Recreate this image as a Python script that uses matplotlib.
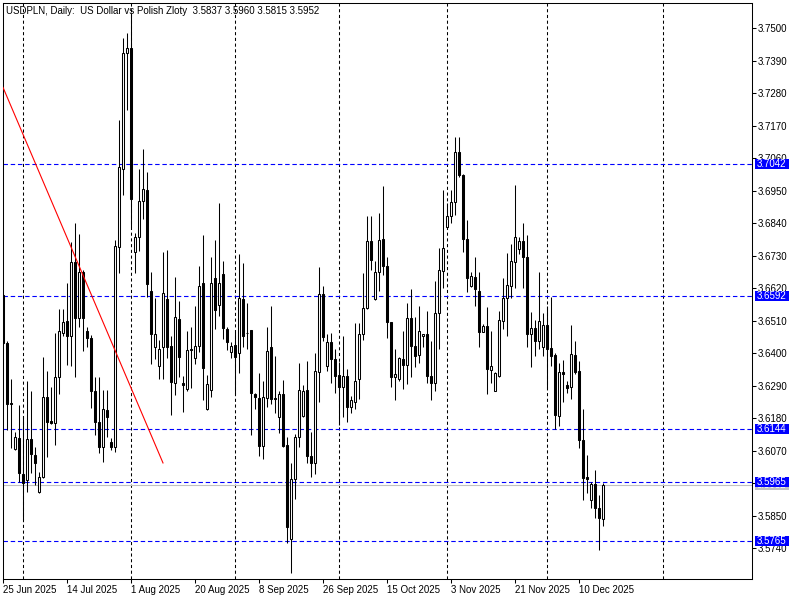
import matplotlib
matplotlib.use("Agg")
import matplotlib.pyplot as plt
from matplotlib.patches import Rectangle

plt.rcParams['font.family'] = ['Liberation Sans', 'DejaVu Sans']

title = "USDPLN, Daily:  US Dollar vs Polish Zloty  3.5837 3.5960 3.5815 3.5952"

opens = [3.6597, 3.6434, 3.6230, 3.6075, 3.6111, 3.5992, 3.5970, 3.6108, 3.6055, 3.5928,
         3.5982, 3.6253, 3.6170, 3.6165, 3.6318, 3.6467, 3.6509, 3.6459, 3.6707, 3.6520,
         3.6674, 3.6475, 3.6452, 3.6273, 3.6166, 3.6083, 3.6207, 3.6098, 3.6081, 3.6760,
         3.7022, 3.7415, 3.7432, 3.6744, 3.6792, 3.6915, 3.6952, 3.6610, 3.6421, 3.6355,
         3.6421, 3.6582, 3.6424, 3.6298, 3.6514, 3.6300, 3.6279, 3.6413, 3.6383, 3.6425,
         3.6637, 3.6210, 3.6276, 3.6655, 3.6564, 3.6667, 3.6482, 3.6403, 3.6427, 3.6400,
         3.6582, 3.6467, 3.6478, 3.6260, 3.6248, 3.6086, 3.6248, 3.6421, 3.6248, 3.6185,
         3.6262, 3.6089, 3.5771, 3.5974, 3.6115, 3.6188, 3.6274, 3.6052, 3.6028, 3.6337,
         3.6599, 3.6355, 3.6439, 3.6379, 3.6325, 3.6286, 3.6321, 3.6218, 3.6236, 3.6312,
         3.6466, 3.6554, 3.6778, 3.6582, 3.6675, 3.6787, 3.6696, 3.6506, 3.6319, 3.6312,
         3.6381, 3.6361, 3.6518, 3.6425, 3.6393, 3.6458, 3.6464, 3.6321, 3.6300, 3.6536,
         3.6679, 3.6826, 3.6865, 3.6911, 3.7081, 3.7002, 3.6788, 3.6627, 3.6657, 3.6612,
         3.6472, 3.6491, 3.6343, 3.6270, 3.6321, 3.6510, 3.6587, 3.6627, 3.6708, 3.6754,
         3.6778, 3.6724, 3.6466, 3.6485, 3.6442, 3.6421, 3.6494, 3.6418, 3.6393, 3.6188,
         3.6337, 3.6292, 3.6285, 3.6393, 3.6339, 3.6107, 3.5980, 3.5901, 3.5958, 3.5877,
         3.5837]
highs = [3.6600, 3.6440, 3.6312, 3.6134, 3.6224, 3.6188, 3.6307, 3.6273, 3.6083, 3.5998,
         3.6386, 3.6340, 3.6284, 3.6467, 3.6548, 3.6548, 3.6638, 3.6777, 3.6839, 3.6802,
         3.6680, 3.6490, 3.6460, 3.6320, 3.6318, 3.6275, 3.6275, 3.6114, 3.6783, 3.7189,
         3.7468, 3.7485, 3.7552, 3.6806, 3.7022, 3.7090, 3.7015, 3.6676, 3.6585, 3.6446,
         3.6744, 3.6748, 3.6458, 3.6657, 3.6575, 3.6321, 3.6476, 3.6490, 3.6560, 3.6696,
         3.6800, 3.6325, 3.6724, 3.6784, 3.6909, 3.6712, 3.6488, 3.6439, 3.6473, 3.6736,
         3.6706, 3.6570, 3.6478, 3.6264, 3.6333, 3.6306, 3.6490, 3.6560, 3.6391, 3.6270,
         3.6309, 3.6115, 3.6028, 3.6125, 3.6365, 3.6292, 3.6373, 3.6134, 3.6401, 3.6691,
         3.6627, 3.6464, 3.6467, 3.6415, 3.6369, 3.6458, 3.6345, 3.6254, 3.6502, 3.6502,
         3.6672, 3.6866, 3.6865, 3.6712, 3.6875, 3.6966, 3.6724, 3.6506, 3.6413, 3.6388,
         3.6476, 3.6570, 3.6618, 3.6522, 3.6560, 3.6464, 3.6542, 3.6442, 3.6645, 3.6756,
         3.6954, 3.6910, 3.6954, 3.7131, 3.7131, 3.7008, 3.6851, 3.6675, 3.6724, 3.6675,
         3.6500, 3.6557, 3.6476, 3.6337, 3.6542, 3.6655, 3.6739, 3.6768, 3.6969, 3.6793,
         3.6841, 3.6800, 3.6539, 3.6512, 3.6675, 3.6536, 3.6560, 3.6591, 3.6401, 3.6367,
         3.6377, 3.6306, 3.6494, 3.6442, 3.6373, 3.6212, 3.6055, 3.5962, 3.6004, 3.5919,
         3.5960]
lows = [3.6430, 3.6140, 3.6077, 3.6072, 3.5965, 3.5835, 3.5929, 3.5994, 3.5953, 3.5925,
        3.5976, 3.6049, 3.6160, 3.6089, 3.6262, 3.6458, 3.6360, 3.6357, 3.6319, 3.6490,
        3.6408, 3.6422, 3.6213, 3.6123, 3.6061, 3.6032, 3.6117, 3.6072, 3.6066, 3.6670,
        3.6935, 3.7223, 3.6828, 3.6672, 3.6747, 3.6853, 3.6590, 3.6362, 3.6379, 3.6312,
        3.6312, 3.6385, 3.6192, 3.6258, 3.6319, 3.6201, 3.6270, 3.6282, 3.6364, 3.6403,
        3.6242, 3.6206, 3.6252, 3.6482, 3.6524, 3.6448, 3.6409, 3.6385, 3.6260, 3.6331,
        3.6421, 3.6413, 3.6123, 3.6212, 3.6052, 3.6043, 3.6219, 3.6228, 3.6198, 3.6129,
        3.6083, 3.5756, 3.5656, 3.5907, 3.6083, 3.6183, 3.6028, 3.5980, 3.5989, 3.6236,
        3.6442, 3.6340, 3.6300, 3.6264, 3.6155, 3.6185, 3.6167, 3.6198, 3.6212, 3.6246,
        3.6446, 3.6551, 3.6681, 3.6579, 3.6609, 3.6663, 3.6452, 3.6285, 3.6240, 3.6306,
        3.6280, 3.6294, 3.6319, 3.6352, 3.6367, 3.6421, 3.6300, 3.6240, 3.6272, 3.6413,
        3.6621, 3.6820, 3.6841, 3.6869, 3.6995, 3.6744, 3.6606, 3.6623, 3.6560, 3.6421,
        3.6470, 3.6260, 3.6300, 3.6270, 3.6318, 3.6480, 3.6458, 3.6588, 3.6621, 3.6736,
        3.6621, 3.6421, 3.6352, 3.6391, 3.6415, 3.6391, 3.6282, 3.6357, 3.6143, 3.6152,
        3.6236, 3.6264, 3.6246, 3.6330, 3.6077, 3.5901, 3.5925, 3.5874, 3.5841, 3.5732,
        3.5815]
closes = [3.6434, 3.6228, 3.6226, 3.6117, 3.5993, 3.5961, 3.6108, 3.6057, 3.6029, 3.5982,
          3.6253, 3.6168, 3.6165, 3.6318, 3.6476, 3.6506, 3.6459, 3.6707, 3.6520, 3.6674,
          3.6518, 3.6452, 3.6270, 3.6166, 3.6083, 3.6210, 3.6183, 3.6083, 3.6763, 3.7029,
          3.7417, 3.7432, 3.6921, 3.6794, 3.6915, 3.6955, 3.6633, 3.6464, 3.6464, 3.6413,
          3.6603, 3.6421, 3.6303, 3.6522, 3.6387, 3.6291, 3.6409, 3.6409, 3.6425, 3.6627,
          3.6349, 3.6295, 3.6637, 3.6545, 3.6637, 3.6484, 3.6436, 3.6424, 3.6387, 3.6588,
          3.6458, 3.6467, 3.6264, 3.6250, 3.6086, 3.6252, 3.6406, 3.6246, 3.6243, 3.6262,
          3.6085, 3.5811, 3.5974, 3.6115, 3.6276, 3.6273, 3.6050, 3.6028, 3.6339, 3.6599,
          3.6454, 3.6439, 3.6379, 3.6321, 3.6286, 3.6321, 3.6218, 3.6240, 3.6306, 3.6466,
          3.6554, 3.6778, 3.6715, 3.6675, 3.6784, 3.6696, 3.6506, 3.6319, 3.6328, 3.6385,
          3.6361, 3.6518, 3.6425, 3.6389, 3.6476, 3.6464, 3.6321, 3.6300, 3.6536, 3.6681,
          3.6756, 3.6866, 3.6911, 3.7081, 3.7002, 3.6788, 3.6654, 3.6660, 3.6617, 3.6470,
          3.6491, 3.6345, 3.6357, 3.6331, 3.6512, 3.6587, 3.6631, 3.6712, 3.6793, 3.6778,
          3.6724, 3.6466, 3.6485, 3.6442, 3.6510, 3.6494, 3.6415, 3.6391, 3.6192, 3.6337,
          3.6328, 3.6282, 3.6397, 3.6337, 3.6107, 3.5976, 3.5974, 3.5958, 3.5874, 3.5841,
          3.5952]

date_tick_bars = [0, 16, 32, 48, 64, 80, 96, 112, 128, 144]
date_tick_labels = ["25 Jun 2025", "14 Jul 2025", "1 Aug 2025", "20 Aug 2025", "8 Sep 2025",
                    "26 Sep 2025", "15 Oct 2025", "3 Nov 2025", "21 Nov 2025", "10 Dec 2025"]
month_start_bars = [5, 32, 58, 84, 111, 136, 165]

price_ticks = [3.7500, 3.7390, 3.7280, 3.7170, 3.7060, 3.6950, 3.6840, 3.6730, 3.6620,
               3.6510, 3.6400, 3.6290, 3.6180, 3.6070, 3.5960, 3.5850, 3.5740]
levels = [3.7042, 3.6592, 3.6144, 3.5965, 3.5765]
bid_price = 3.5952
trend_bars = [0, 40]
trend_prices = [3.7300, 3.6028]

W, H = 800, 600
fig = plt.figure(figsize=(8, 6), dpi=100)
L, R, T, B = 2.5, 752.0, 2.5, 579.0
ax = fig.add_axes([L / W, 1 - B / H, (R - L) / W, (B - T) / H])
ax.set_facecolor('white')
ax.set_xlim(-0.125, -0.125 + (R - L) / 4.0)
ax.set_ylim(3.56350, 3.75874)
px = (3.75874 - 3.56350) / (B - T)  # price per pixel
lw = 0.75

for s in ax.spines.values():
    s.set_linewidth(lw)
    s.set_color('black')

# vertical grid
for m in month_start_bars:
    ax.axvline(m, color='black', lw=lw, ls=(0, (3, 2.5)), zorder=1, snap=True)

# horizontal levels
for lv in levels:
    ax.axhline(lv, color='#0000ff', lw=0.8, ls=(0, (4, 2.5)), zorder=1, snap=True)
ax.axhline(bid_price, color='#c0c0c0', lw=0.8, zorder=1, snap=True)

# candles
n = len(opens)
xs = list(range(n))
ax.vlines(xs, lows, highs, color='black', lw=lw, zorder=2)
for i in xs:
    o, c = opens[i], closes[i]
    bottom = min(o, c)
    height = max(abs(c - o), px * 0.3)
    fill = 'white' if c >= o else 'black'
    ax.bar(i, height, bottom=bottom, width=0.5, color=fill, edgecolor='black',
           linewidth=lw, zorder=3)

# trend line
ax.plot(trend_bars, trend_prices, color='red', lw=0.8, zorder=4)

# axes ticks
ax.yaxis.tick_right()
ax.set_yticks(price_ticks)
ax.set_yticklabels([f"{p:.4f}" for p in price_ticks])
ax.tick_params(axis='y', direction='out', length=3, width=lw, labelsize=7, pad=1)
ax.set_xticks(date_tick_bars)
ax.set_xticklabels(date_tick_labels)
ax.tick_params(axis='x', direction='out', length=3, width=lw, labelsize=7, pad=1.5)
for lab in ax.get_xticklabels():
    lab.set_ha('left')

# price labels on right axis
box_x0 = 1 + 3.0 / (R - L)
box_w = 34.0 / (R - L)
box_h = 10 * px
trans = ax.get_yaxis_transform()
ax.add_patch(Rectangle((box_x0, bid_price - box_h / 2), box_w, box_h, transform=trans,
                       facecolor='#c0c0c0', edgecolor='none', clip_on=False, zorder=5))
ax.text(box_x0 + 1.5 / (R - L), bid_price, f"{bid_price:.4f}", transform=trans, ha='left',
        va='center', fontsize=7, color='white', clip_on=False, zorder=6)
for lv in levels:
    ax.add_patch(Rectangle((box_x0, lv - box_h / 2), box_w, box_h, transform=trans,
                           facecolor='#0000ff', edgecolor='none', clip_on=False, zorder=7))
    ax.text(box_x0 + 1.5 / (R - L), lv, f"{lv:.4f}", transform=trans, ha='left',
            va='center', fontsize=7, color='white', clip_on=False, zorder=8)

ax.text(3.5 / (R - L), 1 - 8.0 / (B - T), title, transform=ax.transAxes, ha='left',
        va='center', fontsize=7, color='black', zorder=9)

fig.savefig('out.png', dpi=100)
